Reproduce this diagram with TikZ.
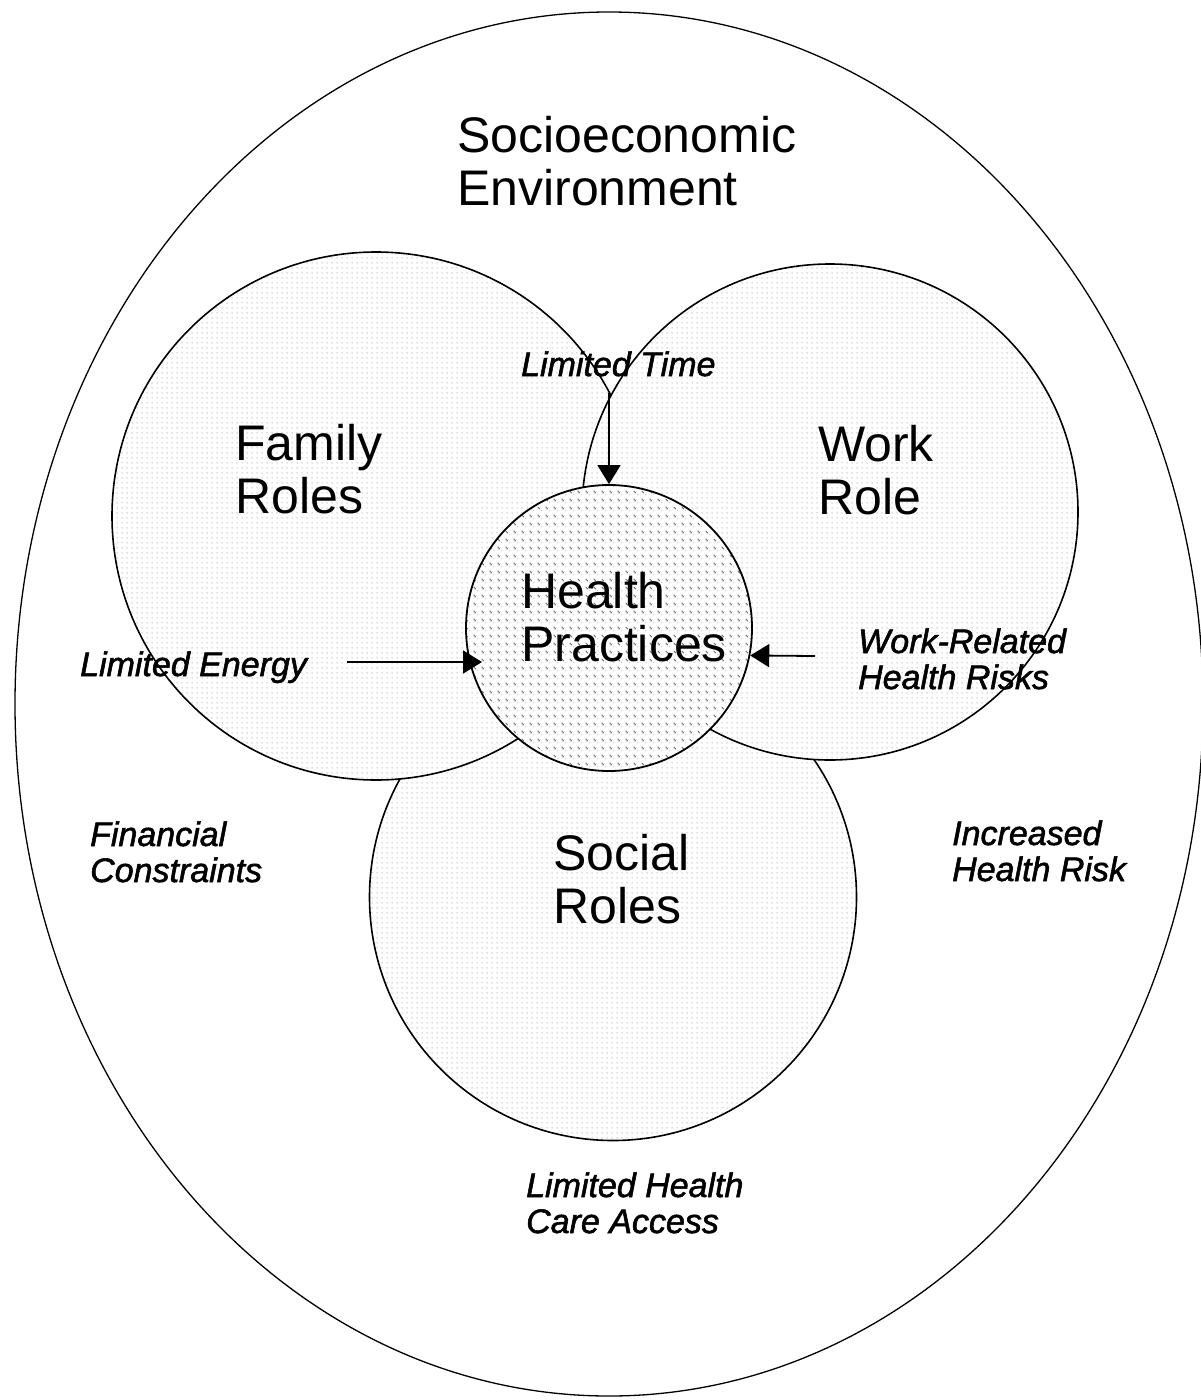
\documentclass[tikz,border=0pt]{standalone}
\usepackage{fontspec}
\setmainfont{Liberation Sans}[ItalicFeatures={FakeBold=1.6}]
\usetikzlibrary{arrows.meta,patterns.meta,shapes.geometric}

% light dot screen used for the role circles
\tikzdeclarepattern{
  name=finedots,
  type=uncolored,
  bounding box={(0pt,0pt) and (5pt,5pt)},
  tile size={(5pt,5pt)},
  code={\fill (2.5pt,2.5pt) circle (0.65pt);}
}
% denser slanted screen for the central circle
\tikzdeclarepattern{
  name=slantdots,
  type=uncolored,
  bounding box={(0pt,0pt) and (8pt,8pt)},
  tile size={(8pt,8pt)},
  code={
    \draw[line width=0.9pt, line cap=round] (2pt,5.6pt) -- (4.2pt,3.4pt);
    \fill (6.5pt,1.5pt) circle (0.45pt);
  }
}

\tikzset{
  envshape/.style={draw, ellipse, line width=1.3pt, inner sep=0pt},
  rolecircle/.style={draw, circle, line width=1.6pt, inner sep=0pt,
    preaction={fill=white}, pattern=finedots, pattern color=black!50},
  corecircle/.style={draw, circle, line width=1.8pt, inner sep=0pt,
    preaction={fill=white}, pattern=slantdots, pattern color=black!60},
  biglabel/.style={font=\fontsize{50}{53}\selectfont, align=left,
    anchor=base west, inner sep=0pt},
  smalllabel/.style={font=\fontsize{34}{36}\selectfont\itshape, align=left,
    anchor=base west, inner sep=0pt},
  arr/.style={line width=1.8pt, -{Triangle[length=19pt,width=23pt]}}
}

\begin{document}
\begin{tikzpicture}[x=1pt,y=-1pt]
\useasboundingbox (0,0) rectangle (1201,1400);

% outer environment
\node[envshape, minimum width=1188pt, minimum height=1384pt] (env) at (609,704) {};

% role circles, back to front
\node[rolecircle, minimum size=487pt] (social) at (613,897) {};
\node[rolecircle, minimum size=528pt] (family) at (376,516) {};
\node[rolecircle, minimum size=496pt] (work) at (830,512) {};
\node[corecircle, minimum size=286pt] (health) at (609,628) {};

% labels (positions give the baseline of the last line)
\node[biglabel] (envlab) at (457,205) {Socioeconomic\\Environment};
\node[biglabel] (famlab) at (235,513) {Family\\Roles};
\node[biglabel] (worklab) at (818,514) {Work\\Role};
\node[biglabel] (healthlab) at (521,661) {Health\\Practices};
\node[biglabel] (soclab) at (553,923) {Social\\Roles};

\node[smalllabel] (timelab) at (521,376) {Limited Time};
\node[smalllabel] (energylab) at (80,676) {Limited Energy};
\node[smalllabel] (risklab) at (858,689) {Work-Related\\Health Risks};
\node[smalllabel] (finlab) at (90,882) {Financial\\Constraints};
\node[smalllabel] (incrlab) at (952,881) {Increased\\Health Risk};
\node[smalllabel] (carelab) at (526,1233) {Limited Health\\Care Access};

% influences on health practices
\coordinate (timestart) at (609,393);
\coordinate (energystart) at (347,662);
\coordinate (energyend) at (482,662);
\coordinate (riskstart) at (815,656);

\draw[arr] (timestart) -- (health.north);
\draw[arr] (energystart) -- (energyend);
\draw[arr] (riskstart) -- (health.-11);
\end{tikzpicture}
\end{document}
